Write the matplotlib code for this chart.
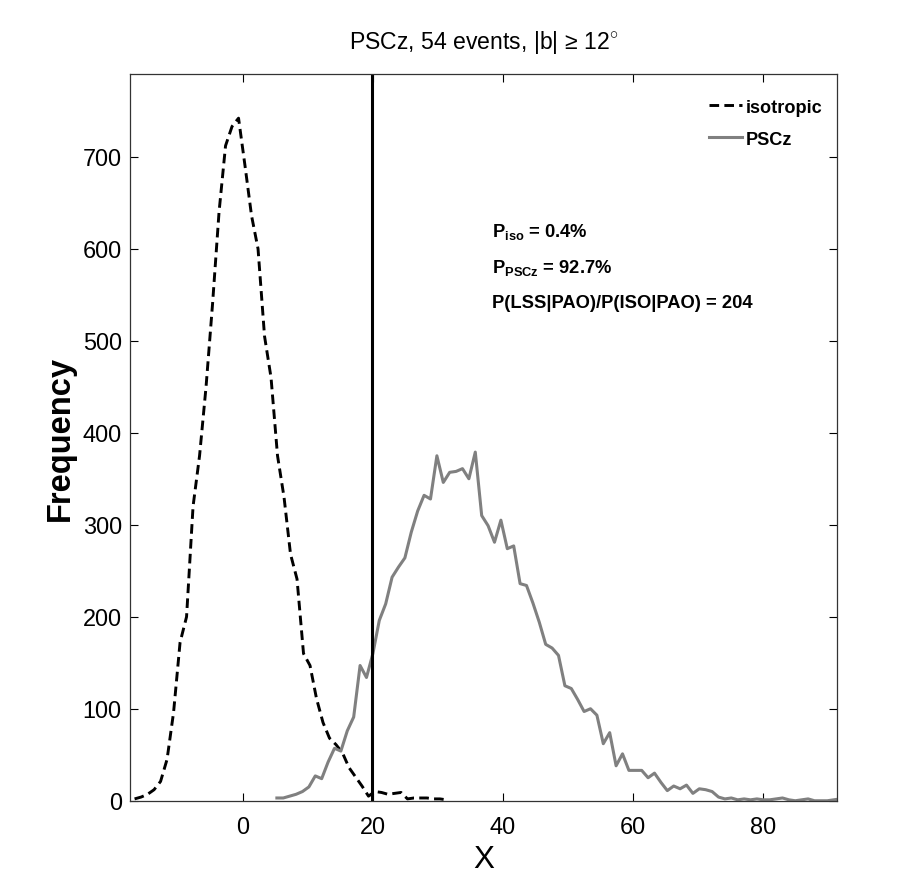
import numpy as np
import matplotlib
matplotlib.use("Agg")
import matplotlib.pyplot as plt
from matplotlib import font_manager as fm

names = {f.name for f in fm.fontManager.ttflist}
if 'Liberation Sans Narrow' in names:
    NARROW, SC = 'Liberation Sans Narrow', 1.0
else:
    NARROW, SC = 'Liberation Sans', 0.87

plt.rcParams['mathtext.fontset'] = 'custom'
plt.rcParams['mathtext.rm'] = NARROW
plt.rcParams['mathtext.bf'] = NARROW + ':bold'

# ---- data ----
iso_start, iso_step = -16.7, 1.0
iso_y = [2, 4, 7, 12, 21, 45, 96, 172, 200, 320, 375, 450, 540, 640, 712, 733, 742,
         690, 636, 600, 505, 460, 375, 330, 268, 241, 160, 147, 111, 85, 68, 61, 52,
         36, 26, 16, 5, 10, 9, 7, 8, 9, 2, 3, 3, 3, 2, 2, 1]
pscz_start, pscz_step = 5.2, 0.985
pscz_y = [3, 3, 5, 7, 10, 15, 27, 24, 42, 57,
          54, 76, 91, 147, 134, 160, 196, 214, 243, 254,
          264, 292, 315, 332, 328, 375, 346, 357, 358, 361,
          350, 379, 310, 299, 281, 305, 274, 277, 236, 234,
          215, 194, 170, 166, 158, 125, 122, 110, 97, 100,
          93, 62, 74, 38, 51, 33, 33, 33, 25, 30,
          20, 11, 16, 13, 17, 8, 13, 12, 10, 4,
          2, 3, 1, 2, 1, 2, 1, 1, 2, 3,
          1, 0, 1, 2, 0, 0, 0, 1, 2]
x_observed = 19.8
xticks = [0, 20, 40, 60, 80]
yticks = [0, 100, 200, 300, 400, 500, 600, 700]
title = r'PSCz, 54 events, |b| ≥ 12$^{\circ}$'
annot = [r'P$_{\mathbf{iso}}$ = 0.4%', r'P$_{\mathbf{PSCz}}$ = 92.7%',
         'P(LSS|PAO)/P(ISO|PAO) = 204']

iso_x = iso_start + iso_step * np.arange(len(iso_y))
pscz_x = pscz_start + pscz_step * np.arange(len(pscz_y))

fig = plt.figure(figsize=(9.08, 8.95), dpi=100)
ax = fig.add_axes([0.1432, 0.1042, 0.7786, 0.8120])

ax.plot(iso_x, iso_y, color='black', lw=2.1, ls=(0, (3.3, 1.8)), label='isotropic')
ax.plot(pscz_x, pscz_y, color='#808080', lw=2.2, label='PSCz')
ax.axvline(x_observed, color='black', lw=2.2)

ax.set_xlim(-17.4, 91.4)
ax.set_ylim(0, 790)
ax.set_xticks(xticks)
ax.set_yticks(yticks)
ax.tick_params(direction='in', length=6, width=0.8, top=True, right=True,
               labelsize=19.5 * SC)
ax.tick_params(axis='x', pad=11)
ax.tick_params(axis='y', pad=6)
for lab in ax.get_xticklabels() + ax.get_yticklabels():
    lab.set_family(NARROW)
for s in ax.spines.values():
    s.set_linewidth(0.9)
    s.set_color('#333333')

ax.set_xlabel('X', family=NARROW, fontsize=26 * SC, labelpad=4)
ax.set_ylabel('Frequency', family='Liberation Sans', fontweight='bold',
              fontsize=23.5)
ax.yaxis.set_label_coords(-0.076, 0.5)
ax.set_title(title, family=NARROW, fontsize=19 * SC, pad=19)

leg = ax.legend(loc='upper right', bbox_to_anchor=(0.980, 0.966), frameon=False,
                handlelength=1.8, handletextpad=0.25, borderaxespad=0.0,
                borderpad=0.0, labelspacing=0.82,
                prop={'family': NARROW, 'weight': 'bold', 'size': 15 * SC})

ys = [0.777, 0.728, 0.680]
for t, yy in zip(annot, ys):
    ax.text(0.512, yy, t, transform=ax.transAxes, family=NARROW,
            fontweight='bold', fontsize=15.2 * SC, va='baseline', ha='left')

fig.savefig('out.png', dpi=100)
